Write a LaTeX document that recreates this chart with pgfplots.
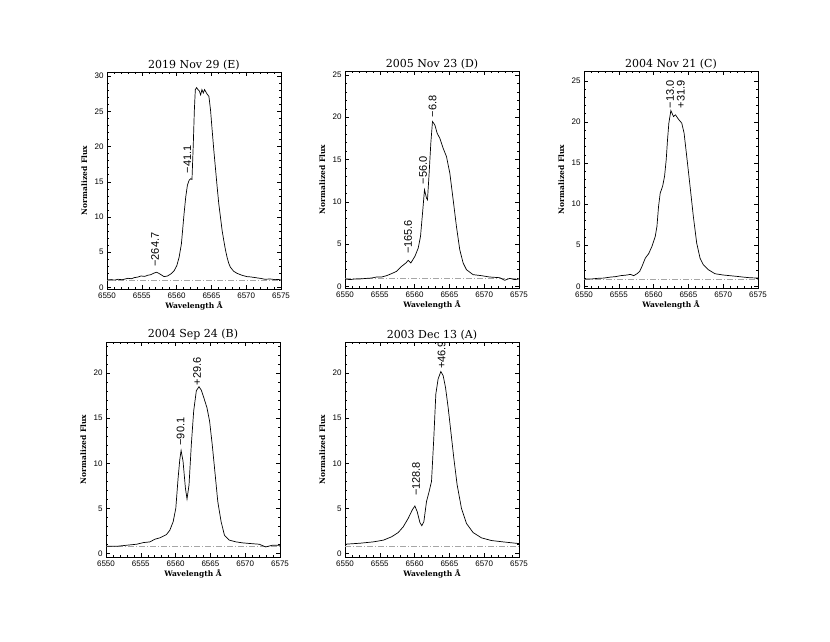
\documentclass[border=0pt]{standalone}
\usepackage{fontspec}
\setmainfont{DejaVu Serif}
\newfontfamily\sansf{Liberation Sans}
\usepackage{pgfplots}
\pgfplotsset{compat=1.18}
\newcommand\titfont{\fontsize{11}{12}\selectfont}
\newcommand\labfont{\bfseries\fontsize{7.5}{8}\selectfont}
\newcommand\tickfont{\sansf\fontsize{8}{9}\selectfont}
\newcommand\annfont{\sansf\fontsize{11}{12}\selectfont}
\pgfplotsset{
  myax/.style={
    scale only axis, width=174pt,
    xmin=6550, xmax=6575,
    xtick={6550,6555,...,6575}, minor x tick num=4,
    ytick distance=5, minor y tick num=4,
    tick align=inside, major tick length=4pt, minor tick length=2pt,
    axis line style={line width=0.6pt},
    every tick/.style={black, line width=0.5pt},
    tick label style={font=\tickfont},
    /pgf/number format/assume math mode=true,
    /pgf/number format/set thousands separator={},
    xlabel={Wavelength Å}, ylabel={Normalized Flux},
    every axis title/.style={at={(0.5,1)}, anchor=south, inner sep=0pt, yshift=2pt, font=\titfont},
    every axis x label/.style={at={(axis description cs:0.5,0)}, anchor=north, inner sep=0pt, yshift=-12pt, font=\labfont},
    every axis y label/.style={at={(axis description cs:-0.112,0.5)}, rotate=90, anchor=south, inner sep=0pt, font=\labfont},
  },
  spec/.style={black, line width=0.7pt, no marks},
  cont/.style={black!35, line width=0.6pt, dash pattern=on 6pt off 2pt on 1pt off 2pt},
}
\tikzset{ann/.style={rotate=90, anchor=west, font=\annfont, inner sep=0.5pt}}
\begin{document}
\begin{tikzpicture}
\useasboundingbox (0,0) rectangle (830pt,-642pt);
% ---------------- E
\begin{axis}[myax, at={(107pt,-72pt)}, anchor=north west, height=217pt,
  ymin=-0.24, ymax=30.6, title={2019 Nov 29 (E)}]
\addplot[cont] coordinates {(6550,1.04) (6575,1.04)};
\addplot[spec] coordinates {
(6550.0,1.04) (6550.6,1.10) (6551.1,1.02) (6551.57,1.14) (6552.2,1.08) (6553.0,1.28) (6553.5,1.22) (6553.95,1.38)
(6554.4,1.45) (6554.9,1.61) (6555.4,1.55) (6555.85,1.71) (6556.3,1.80) (6556.8,2.04) (6557.13,2.14)
(6557.45,1.98) (6557.75,1.80) (6558.2,1.52) (6558.7,1.61) (6559.17,1.90) (6559.65,2.37) (6560.03,3.08)
(6560.36,4.27) (6560.69,6.17) (6561.07,10.44) (6561.31,12.81) (6561.55,14.48) (6561.79,15.19)
(6562.02,15.42) (6562.21,15.33) (6562.4,20.41) (6562.55,25.15) (6562.69,28.1) (6562.88,28.38)
(6563.07,28.1) (6563.26,27.9) (6563.45,27.34) (6563.64,28.1) (6563.83,27.62) (6564.02,28.1)
(6564.21,27.76) (6564.4,27.43) (6564.64,27.15) (6564.88,25.15) (6565.11,22.3) (6565.35,19.46)
(6565.59,16.85) (6565.83,14.24) (6566.06,11.87) (6566.3,9.97) (6566.54,8.07) (6566.78,6.64)
(6567.02,5.32) (6567.25,4.27) (6567.49,3.42) (6567.73,2.85) (6568.2,2.28) (6568.68,1.99)
(6569.39,1.71) (6570.1,1.52) (6570.6,1.48) (6571.05,1.42) (6571.5,1.35) (6572.0,1.28) (6572.72,1.14)
(6573.43,1.19) (6574.14,1.09) (6574.6,1.12) (6575.0,1.04)};
\node[ann] at (axis cs:6556.9,2.85) {−264.7};
\node[ann] at (axis cs:6561.55,16.1) {−41.1};
\end{axis}
% ---------------- D
\begin{axis}[myax, at={(345pt,-71pt)}, anchor=north west, height=217pt,
  ymin=-0.2, ymax=25.47, title={2005 Nov 23 (D)}]
\addplot[cont] coordinates {(6550,0.9) (6575,0.9)};
\addplot[spec] coordinates {
(6550,0.87) (6550.72,0.79) (6551.43,0.87) (6552.15,0.87) (6553.11,0.94) (6553.82,0.98) (6554.54,1.10)
(6555.26,1.10) (6555.98,1.26) (6556.69,1.50) (6557.41,1.77) (6558.13,2.36) (6558.75,2.76) (6559.08,3.07)
(6559.46,2.76) (6560.04,3.54) (6560.52,4.53) (6560.85,5.91) (6561.14,8.66) (6561.42,11.42) (6561.71,10.43)
(6561.85,10.24) (6562.09,13.39) (6562.33,16.93) (6562.57,19.49) (6562.91,19.09) (6563.24,18.11)
(6563.62,17.52) (6564.1,16.34) (6564.58,15.35) (6565.06,13.39) (6565.54,10.24) (6566.01,7.09)
(6566.49,4.33) (6566.97,2.76) (6567.45,1.97) (6568.4,1.38) (6569.6,1.26) (6570.79,1.10) (6572.23,1.02)
(6572.94,0.71) (6573.66,0.94) (6574.38,0.79) (6575,0.87)};
\node[ann] at (axis cs:6559.08,3.74) {−165.6};
\node[ann] at (axis cs:6561.23,12.0) {−56.0};
\node[ann] at (axis cs:6562.57,19.9) {−6.8};
\end{axis}
% ---------------- C
\begin{axis}[myax, at={(584pt,-71pt)}, anchor=north west, height=217pt,
  ymin=-0.2, ymax=26.2, title={2004 Nov 21 (C)}]
\addplot[cont] coordinates {(6550,0.9) (6575,0.9)};
\addplot[spec] coordinates {
(6550,0.89) (6550.95,0.89) (6551.9,0.97) (6552.86,1.01) (6553.81,1.13) (6554.52,1.18) (6555.24,1.30)
(6556.19,1.38) (6556.67,1.46) (6557.14,1.30) (6557.62,1.54) (6558.0,1.82) (6558.33,2.43) (6558.81,3.44)
(6559.29,3.97) (6559.76,4.86) (6560.24,6.08) (6560.48,7.29) (6560.71,9.72) (6560.95,11.35) (6561.29,12.16)
(6561.57,13.37) (6561.81,15.4) (6562.0,17.83) (6562.19,19.85) (6562.48,21.39) (6562.86,20.66)
(6563.14,20.87) (6563.57,20.34) (6564.05,19.85) (6564.38,18.64) (6564.76,15.8) (6565.24,12.16)
(6565.71,8.51) (6566.19,5.27) (6566.67,3.44) (6567.14,2.63) (6567.86,2.03) (6568.81,1.54) (6570.0,1.38)
(6570.95,1.30) (6571.9,1.22) (6572.86,1.13) (6573.81,1.05) (6575,1.01)};
\node[ann] at (axis cs:6562.38,21.6) {−13.0};
\node[ann] at (axis cs:6563.9,21.6) {+31.9};
\end{axis}
% ---------------- B
\begin{axis}[myax, at={(106pt,-342pt)}, anchor=north west, height=215pt,
  ymin=-0.41, ymax=23.47, title={2004 Sep 24 (B)}]
\addplot[cont] coordinates {(6550,0.75) (6575,0.75)};
\addplot[spec] coordinates {
(6550,0.78) (6551.57,0.78) (6553.0,0.90) (6554.42,1.01) (6555.37,1.19) (6556.32,1.27) (6557.03,1.57)
(6557.75,1.72) (6558.7,2.09) (6559.17,2.57) (6559.65,3.51) (6560.03,5.0) (6560.36,8.36) (6560.6,10.41)
(6560.79,11.42) (6561.07,10.22) (6561.41,7.24) (6561.64,6.04) (6561.93,7.61) (6562.26,12.09)
(6562.6,15.82) (6562.98,18.06) (6563.36,18.51) (6563.69,18.13) (6564.07,17.24) (6564.5,16.19)
(6564.88,14.7) (6565.26,12.09) (6565.64,9.1) (6566.06,5.75) (6566.54,3.51) (6567.02,2.01) (6567.73,1.46)
(6568.68,1.27) (6569.63,1.16) (6570.82,1.08) (6572.0,1.01) (6572.96,0.71) (6573.91,0.90) (6575,0.90)};
\node[ann] at (axis cs:6560.7,11.9) {−90.1};
\node[ann] at (axis cs:6563.1,18.6) {+29.6};
\end{axis}
% ---------------- A
\begin{axis}[myax, at={(345pt,-342pt)}, anchor=north west, height=215pt,
  ymin=-0.41, ymax=23.47, title={2003 Dec 13 (A)}]
\addplot[cont] coordinates {(6550,0.78) (6575,0.78)};
\addplot[spec] coordinates {
(6550,1.01) (6552.15,1.12) (6554.06,1.27) (6555.5,1.46) (6556.69,1.83) (6557.65,2.31) (6558.37,2.95)
(6559.08,3.88) (6559.66,4.81) (6560.04,5.26) (6560.37,4.63) (6560.76,3.43) (6561.04,3.06) (6561.33,3.51)
(6561.71,5.75) (6562.09,6.87) (6562.43,7.99) (6562.76,12.84) (6563.05,17.69) (6563.38,19.37)
(6563.77,20.19) (6564.1,19.74) (6564.44,18.43) (6564.82,16.19) (6565.2,13.58) (6565.63,10.6)
(6566.11,7.61) (6566.73,5.0) (6567.45,3.32) (6568.4,2.31) (6569.6,1.72) (6571.03,1.42) (6572.71,1.27)
(6575,1.08)};
\node[ann] at (axis cs:6560.2,6.3) {−128.8};
\node[ann] at (axis cs:6563.86,20.4) {+46.9};
\end{axis}
\end{tikzpicture}
\end{document}
